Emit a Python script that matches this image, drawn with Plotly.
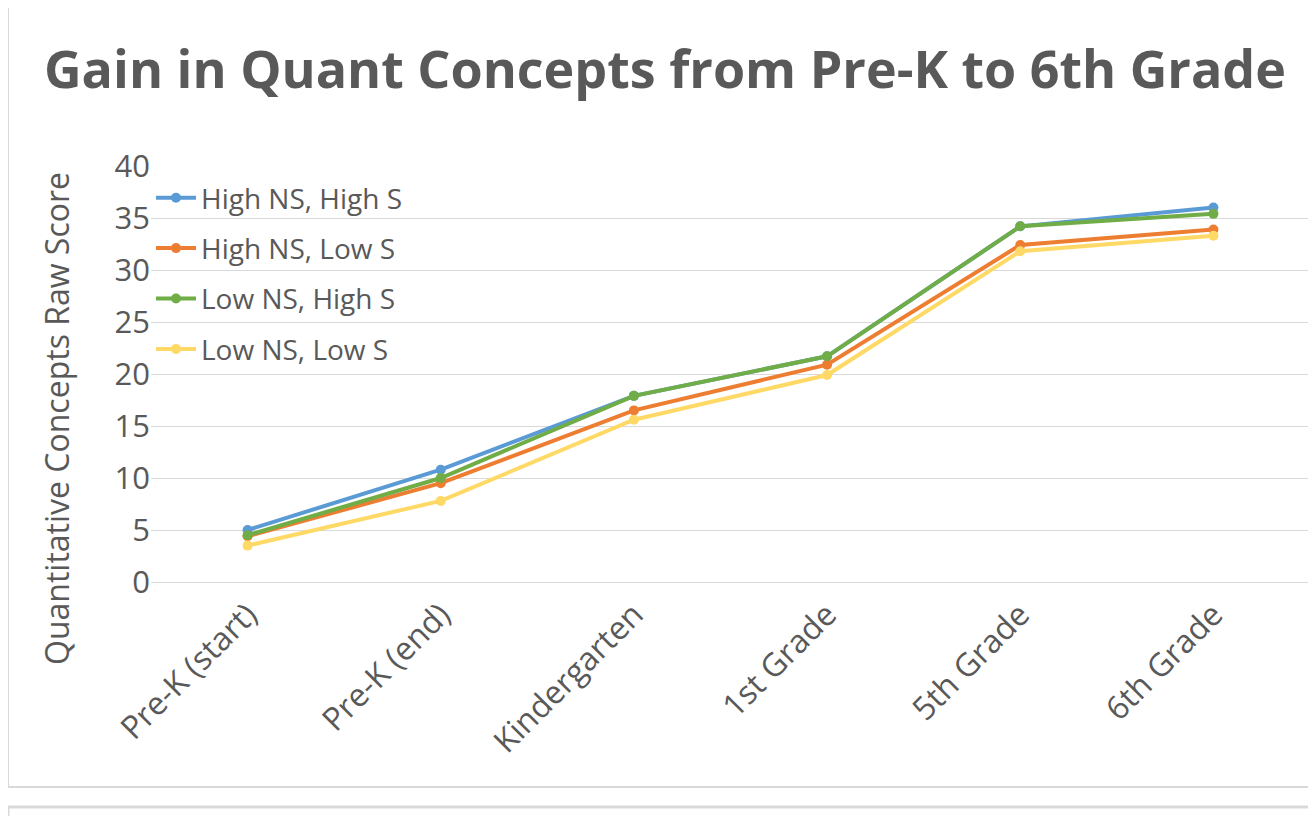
import plotly.graph_objects as go

# Grade levels on the x axis
grades = ["Pre-K (start)", "Pre-K (end)", "Kindergarten", "1st Grade", "5th Grade", "6th Grade"]

# Raw scores per group
high_ns_high_s = [5.0, 10.8, 17.9, 21.7, 34.2, 36.0]
high_ns_low_s = [4.4, 9.5, 16.5, 20.9, 32.4, 33.9]
low_ns_high_s = [4.5, 10.0, 17.9, 21.7, 34.2, 35.4]
low_ns_low_s = [3.5, 7.8, 15.6, 19.9, 31.8, 33.3]

series_names = ["High NS, High S", "High NS, Low S", "Low NS, High S", "Low NS, Low S"]
series_values = [high_ns_high_s, high_ns_low_s, low_ns_high_s, low_ns_low_s]
colors = ["#5B9BD5", "#ED7D31", "#70AD47", "#FFD966"]

FONT = "Open Sans"
GREY = "#595959"

fig = go.Figure()
for name, vals, col in zip(series_names, series_values, colors):
    fig.add_trace(
        go.Scatter(
            x=grades,
            y=vals,
            mode="lines+markers",
            name=name,
            legendgroup=name,
            line=dict(color=col, width=4),
            marker=dict(color=col, size=10),
        )
    )

# page has an 8px body margin, so work in screen pixels and shift by it
OFF = 8
W, H = 1316 - OFF, 816 - OFF
L = 151 - OFF
T = 166 - OFF
R = W - (1310 - OFF)
B = H - (582 - OFF)
pw, ph = W - L - R, H - T - B


def px(x):
    # screen x -> paper x
    return (x - OFF - L) / pw


def py(y):
    # screen y -> paper y
    return (H - B - (y - OFF)) / ph


fig.update_layout(
    width=W,
    height=H,
    margin=dict(l=L, r=R, t=T, b=B),
    paper_bgcolor="white",
    plot_bgcolor="white",
    font=dict(family=FONT, color=GREY),
    title=dict(
        text="<b>Gain in Quant Concepts from Pre-K to 6th Grade</b>",
        x=(665 - OFF) / W,
        xanchor="center",
        y=1 - (70 - OFF) / H,
        yanchor="middle",
        font=dict(family=FONT, size=52, color=GREY),
    ),
    showlegend=True,
    legend=dict(
        x=px(151),
        y=py(173),
        xanchor="left",
        yanchor="top",
        bgcolor="rgba(255,255,255,0)",
        font=dict(family=FONT, size=28, color=GREY),
        traceorder="grouped",
        tracegroupgap=11,
        itemwidth=40,
    ),
    xaxis=dict(
        type="category",
        tickangle=-45,
        tickfont=dict(family=FONT, size=32, color=GREY),
        showgrid=False,
        showline=True,
        linecolor="#D9D9D9",
        linewidth=1,
        ticks="",
        range=[-0.5, 5.5],
    ),
    yaxis=dict(
        range=[0, 40],
        dtick=5,
        tickfont=dict(family=FONT, size=31, color=GREY),
        gridcolor="#D9D9D9",
        gridwidth=1,
        zeroline=False,
        showline=False,
        ticks="",
        ticklen=0,
    ),
    annotations=[
        dict(
            text="Quantitative Concepts Raw Score",
            xref="paper", yref="paper",
            x=px(56), y=py(419),
            xanchor="center", yanchor="middle",
            textangle=-90,
            showarrow=False,
            font=dict(family=FONT, size=32, color=GREY),
        )
    ],
    shapes=[
        # chart frame
        dict(type="rect", xref="paper", yref="paper",
             x0=px(8), x1=px(1340), y0=py(787), y1=py(-20),
             line=dict(color="#D9D9D9", width=2), fillcolor="rgba(0,0,0,0)", layer="below"),
        # next frame starting below
        dict(type="rect", xref="paper", yref="paper",
             x0=px(8), x1=px(1340), y0=py(840), y1=py(807),
             line=dict(color="#D9D9D9", width=3), fillcolor="rgba(0,0,0,0)", layer="below"),
    ],
)

fig.write_html("out.html")
